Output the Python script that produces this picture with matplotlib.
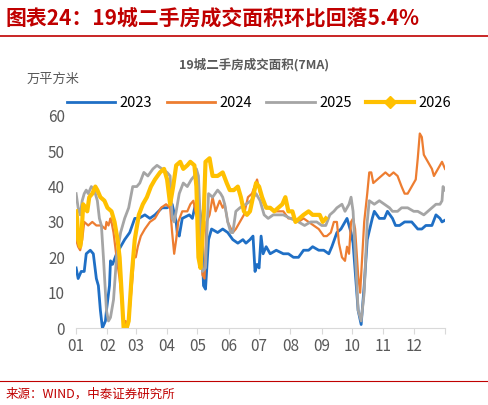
import matplotlib.pyplot as plt
from matplotlib.lines import Line2D

plt.rcParams['font.family'] = ['Noto Sans CJK SC', 'DejaVu Sans']

# (day of year, value)
d23 = [0,2,5,8,10,14,17,20,22,24,26,29,30,33,34,36,40,48,53,58,62,68,73,78,85,90,95,99,100,102,105,112,115,118,122,124,126,128,131,134,140,145,150,155,160,165,168,172,175,177,179,181,183,185,188,192,198,205,210,215,220,225,230,234,240,245,250,253,258,262,266,268,272,274,279,282,285,288,293,295,300,305,308,313,316,320,325,332,338,342,346,352,356,360,362,365]
v23 = [17,14,16,16,21,22,21,14,12,5,0,2,5,12,19,18,21,25,27,31,31,32,31,32,34,34,35,30,27,26,31,32,31,35,34,30,12,11,25,28,27,28,27,25,24,25,24,25,26,16,18,17,26,21,23,21,22,21,21,20,20,22,22,23,22,22,21,23,27,28,30,31,27,24,5,1,12,25,31,33,31,31,33,31,29,29,30,30,28,28,29,29,32,31,30,30.5]
d24 = [0,2,4,6,8,12,16,20,25,29,30,32,34,35,37,40,43,46,47,49,51,53,56,57,59,61,64,68,73,78,84,89,93,95,97,99,101,105,110,113,116,118,120,122,125,127,129,132,135,138,142,145,147,150,155,158,162,166,170,174,179,182,186,190,198,205,210,215,220,225,230,235,240,245,248,252,255,258,260,263,266,268,270,272,274,276,279,281,283,285,288,290,292,294,298,302,306,310,314,318,322,325,328,332,336,338,340,342,344,348,352,354,358,362,365]
v24 = [25,23,22,25,30,29,30,29,29,28,30,29,31,30,27,20,14,5,0,2,0,5,15,20,20,23,26,28,30,31,34,35,34,27,21,25,30,33,33,35,36,33,31,32,15,14,30,32,37,33,36,34,35,30,27,28,30,32,37,38,42,38,35,34,33,33,31,31,30,31,30,29,28,26,26,27,30,30,24,20,19,23,21,30,31,28,15,10,20,30,38,44,44,41,42,43,44,43,44,43,40,38,38,40,42,48,55,54,49,47,45,43,45,47,45]
d25 = [0,2,4,6,8,10,12,15,18,21,23,25,27,29,30,32,34,37,40,44,48,52,56,60,63,67,71,76,80,85,90,93,95,97,99,102,106,110,114,117,119,121,125,128,131,135,140,143,145,147,150,153,155,158,162,168,173,178,182,186,190,195,205,212,220,226,232,238,243,247,251,255,258,263,266,270,272,274,279,282,285,288,290,295,300,305,310,313,318,322,328,334,338,344,348,352,356,360,362,363,365]
v25 = [38,34,32,36,38,39,38,40,39,36,31,29,20,10,5,2,3,8,20,27,31,34,40,40,41,44,43,45,46,45,44,43,31,30,33,38,41,40,42,43,45,43,16,17,38,37,39,38,37,35,30,27,27,33,34,35,36,38,36,32,31,32,32,31,30,29,30,30,29,29,32,33,34,35,33,35,37,33,5,2,10,30,36,35,36,35,34,33,33,34,34,33,33,32,33,34,35,35,36,40,39]
d26 = [0,1,2,4,5,7,9,11,13,16,19,21,24,28,31,35,38,41,43,46,47,50,52,55,58,62,66,70,74,78,83,87,90,93,96,99,103,106,110,113,117,119,121,123,126,128,132,135,140,145,149,152,156,160,163,166,169,172,175,178,181,184,188,192,196,200,204,207,210,214,217,221,225,230,234,238,241,244,247]
v26 = [33,31,25,23,25,35,34,33,37,38,40,39,37,36,34,33,30,25,20,5,0,0,2,15,25,32,35,37,40,42,44,45,42,35,40,46,47,45,46,47,46,40,20,17,30,47,48,43,43,44,41,39,39,40,37,33,32,33,37,41,40,37,34,34,33,34,35,37,33,33,30,31,32,33,32,32,32,30,31]

months = ['01','02','03','04','05','06','07','08','09','10','11','12']
month_start = [0,31,59,90,120,151,181,212,243,273,304,334]

fig = plt.figure(figsize=(4.88, 4.05), dpi=100)
ax = fig.add_axes([0.156, 0.19, 0.756, 0.524])

ax.plot(d23, v23, color='#1F6FC5', lw=2)
ax.plot(d24, v24, color='#ED7D31', lw=1.6)
ax.plot(d25, v25, color='#A5A5A5', lw=2)
ax.plot(d26, v26, color='#FFC000', lw=3)

ax.set_xlim(0, 365)
ax.set_ylim(0, 60)
ax.set_yticks(range(0, 61, 10))
ax.set_xticks(month_start + [365])
ax.set_xticklabels(months + [''])
for s in ['top', 'right', 'left']:
    ax.spines[s].set_visible(False)
ax.spines['bottom'].set_color('#D9D9D9')
ax.tick_params(axis='y', length=0, labelsize=11, colors='#595959', pad=8)
ax.tick_params(axis='x', length=4, color='#D9D9D9', labelsize=11, colors='#595959')

handles = [Line2D([], [], color='#1F6FC5', lw=2),
           Line2D([], [], color='#ED7D31', lw=2),
           Line2D([], [], color='#A5A5A5', lw=2),
           Line2D([], [], color='#FFC000', lw=3, marker='D', markersize=6, markevery=[1])]
ax.legend(handles, ['2023', '2024', '2025', '2026'], loc='lower left', bbox_to_anchor=(-0.04, 1.0),
          ncol=4, frameon=False, fontsize=10.5, handlelength=3.3, columnspacing=1.0,
          handletextpad=0.3, borderaxespad=0)

fig.text(0.52, 0.83, '19城二手房成交面积(7MA)', ha='center', fontsize=9, weight='bold', color='#595959')
fig.text(0.055, 0.795, '万平方米', fontsize=9.5, color='#595959')
fig.text(0.012, 0.937, '图表24：19城二手房成交面积环比回落5.4%', fontsize=15, weight='bold',
         style='italic', color='#C00000')
fig.add_artist(Line2D([0.0, 1.0], [0.912, 0.912], color='#C00000', lw=1.2))
fig.add_artist(Line2D([0.0, 1.0], [0.06, 0.06], color='#C00000', lw=0.8))
fig.text(0.012, 0.018, '来源：WIND，中泰证券研究所', fontsize=9, color='#C00000')

fig.savefig('out.png', dpi=100)
